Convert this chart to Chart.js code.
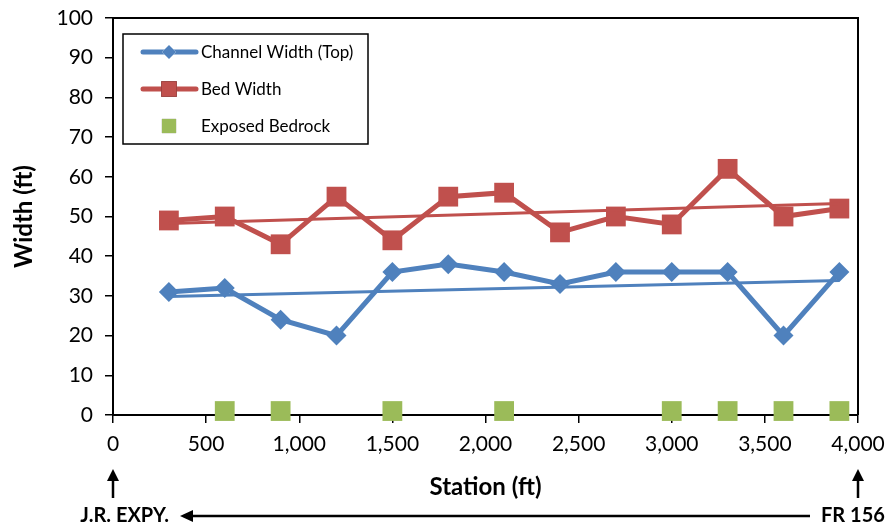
<!DOCTYPE html>
<html>
<head>
<meta charset="utf-8">
<script src="https://cdn.jsdelivr.net/npm/chart.js@4"></script>
<style>
  html, body { margin: 0; padding: 0; background: #fff; }
  #wrap { width: 893px; height: 531px; position: relative; }
</style>
</head>
<body>
<div id="wrap"><canvas id="widthChart"></canvas></div>
<script>
// stations (ft)
const stations = [300, 600, 900, 1200, 1500, 1800, 2100, 2400, 2700, 3000, 3300, 3600, 3900];
const channelWidth = [31, 32, 24, 20, 36, 38, 36, 33, 36, 36, 36, 20, 36];
const bedWidth = [49, 50, 43, 55, 44, 55, 56, 46, 50, 48, 62, 50, 52];
const bedrockStations = [600, 900, 1500, 2100, 3000, 3300, 3600, 3900];
const bedrockLevel = 1;

const blue = '#4F81BD';
const red = '#C0504D';
const green = '#9BBB59';
const font = 'Lato, "Open Sans", sans-serif';

// linear trendline over the station range
function trend(xs, ys) {
    const n = xs.length;
    const mx = xs.reduce((a, b) => a + b, 0) / n;
    const my = ys.reduce((a, b) => a + b, 0) / n;
    let num = 0, den = 0;
    xs.forEach((x, i) => { num += (x - mx) * (ys[i] - my); den += (x - mx) * (x - mx); });
    const slope = num / den;
    const x0 = xs[0], x1 = xs[n - 1];
    return [{ x: x0, y: my + slope * (x0 - mx) }, { x: x1, y: my + slope * (x1 - mx) }];
}

const pts = (xs, ys) => xs.map((x, i) => ({ x: x, y: ys[i] }));

const legendItems = [
    { label: 'Channel Width (Top)', color: blue, line: true, style: 'rectRot', r: 7 },
    { label: 'Bed Width', color: red, line: true, style: 'rect', r: 11 },
    { label: 'Exposed Bedrock', color: green, line: false, style: 'rect', r: 10 }
];

const boxPlugin = {
    id: 'boxPlugin',
    afterDatasetsDraw(chart) {
        const ctx = chart.ctx;
        const a = chart.chartArea;
        ctx.save();
        ctx.strokeStyle = '#000';
        ctx.lineWidth = 2;
        ctx.beginPath();
        ctx.moveTo(a.left, a.top);
        ctx.lineTo(a.right, a.top);
        ctx.lineTo(a.right, a.bottom);
        ctx.stroke();

        // legend
        ctx.fillStyle = '#fff';
        ctx.fillRect(123, 34, 245, 110);
        ctx.lineWidth = 1.5;
        ctx.strokeRect(123, 34, 245, 110);
        const rows = [52, 89, 126];
        legendItems.forEach((it, i) => {
            const y = rows[i];
            if (it.line) {
                ctx.strokeStyle = it.color;
                ctx.lineWidth = 5;
                ctx.lineCap = 'round';
                ctx.beginPath();
                ctx.moveTo(143, y);
                ctx.lineTo(196, y);
                ctx.stroke();
            }
            Chart.helpers.drawPoint(ctx, { pointStyle: it.style, radius: it.r, borderWidth: 0 }, 169, y);
            ctx.fillStyle = it.color;
            ctx.fill();
            ctx.fillStyle = '#000';
            ctx.font = '17px ' + font;
            ctx.textBaseline = 'middle';
            ctx.textAlign = 'left';
            ctx.fillText(it.label, 201, y + 1);
        });

        // route annotations
        const xs = chart.scales.x;
        const xa = xs.getPixelForValue(0);
        const xb = xs.getPixelForValue(4000);
        ctx.fillStyle = '#000';
        ctx.strokeStyle = '#000';
        ctx.lineWidth = 2.5;
        ctx.lineCap = 'butt';
        [xa, xb].forEach(x => {
            ctx.beginPath();
            ctx.moveTo(x, 498);
            ctx.lineTo(x, 478);
            ctx.stroke();
            ctx.beginPath();
            ctx.moveTo(x, 469);
            ctx.lineTo(x - 6, 481);
            ctx.lineTo(x + 6, 481);
            ctx.closePath();
            ctx.fill();
        });
        ctx.font = 'bold 20px ' + font;
        ctx.textBaseline = 'middle';
        ctx.textAlign = 'right';
        ctx.fillText('J.R. EXPY.', 169, 516);
        ctx.textAlign = 'left';
        ctx.fillText('FR 156', 821, 516);
        ctx.beginPath();
        ctx.moveTo(810, 516);
        ctx.lineTo(190, 516);
        ctx.stroke();
        ctx.beginPath();
        ctx.moveTo(180, 516);
        ctx.lineTo(193, 510);
        ctx.lineTo(193, 522);
        ctx.closePath();
        ctx.fill();
        ctx.restore();
    }
};

new Chart(document.getElementById('widthChart'), {
    type: 'scatter',
    data: {
        datasets: [
            {
                label: 'Channel Width trend',
                data: trend(stations, channelWidth),
                showLine: true,
                borderColor: blue,
                borderWidth: 3,
                pointRadius: 0,
                order: 0
            },
            {
                label: 'Bed Width trend',
                data: trend(stations, bedWidth),
                showLine: true,
                borderColor: red,
                borderWidth: 3,
                pointRadius: 0,
                order: 0
            },
            {
                label: 'Channel Width (Top)',
                data: pts(stations, channelWidth),
                showLine: true,
                borderColor: blue,
                backgroundColor: blue,
                borderWidth: 5,
                pointStyle: 'rectRot',
                pointRadius: 10,
                pointBorderWidth: 0,
                order: 1,
                clip: false
            },
            {
                label: 'Bed Width',
                data: pts(stations, bedWidth),
                showLine: true,
                borderColor: red,
                backgroundColor: red,
                borderWidth: 5,
                pointStyle: 'rect',
                pointRadius: 14,
                pointBorderWidth: 0,
                order: 1,
                clip: false
            },
            {
                label: 'Exposed Bedrock',
                data: bedrockStations.map(x => ({ x: x, y: bedrockLevel })),
                showLine: false,
                backgroundColor: green,
                borderColor: green,
                pointStyle: 'rect',
                pointRadius: 14,
                pointBorderWidth: 0,
                order: 2,
                clip: false
            }
        ]
    },
    options: {
        responsive: true,
        maintainAspectRatio: false,
        animation: false,
        layout: { padding: { top: 18, right: 35, bottom: 0, left: 0 } },
        plugins: {
            legend: { display: false },
            tooltip: { enabled: false }
        },
        scales: {
            x: {
                type: 'linear',
                min: 0,
                max: 4000,
                afterFit: s => { s.height = 116; s.paddingLeft = 0; s.paddingRight = 0; },
                border: { display: true, color: '#000', width: 2 },
                grid: { drawOnChartArea: false, drawTicks: true, tickLength: 8, color: '#000', lineWidth: 1.5 },
                ticks: {
                    stepSize: 500,
                    color: '#000',
                    padding: 9,
                    maxRotation: 0,
                    font: { family: font, size: 21 },
                    callback: v => v.toLocaleString('en-US')
                },
                title: {
                    display: true,
                    text: 'Station (ft)',
                    color: '#000',
                    font: { family: font, size: 24, weight: 'bold' },
                    padding: { top: 0, bottom: 29 }
                }
            },
            y: {
                min: 0,
                max: 100,
                afterFit: s => { s.width = 113; s.paddingTop = 0; s.paddingBottom = 0; },
                border: { display: true, color: '#000', width: 2 },
                grid: { drawOnChartArea: false, drawTicks: true, tickLength: 8, color: '#000', lineWidth: 1.5 },
                ticks: {
                    stepSize: 10,
                    color: '#000',
                    padding: 12,
                    font: { family: font, size: 21 }
                },
                title: {
                    display: true,
                    text: 'Width (ft)',
                    color: '#000',
                    font: { family: font, size: 24, weight: 'bold' },
                    padding: { top: 10, bottom: 0 }
                }
            }
        }
    },
    plugins: [boxPlugin]
});
</script>
</body>
</html>
